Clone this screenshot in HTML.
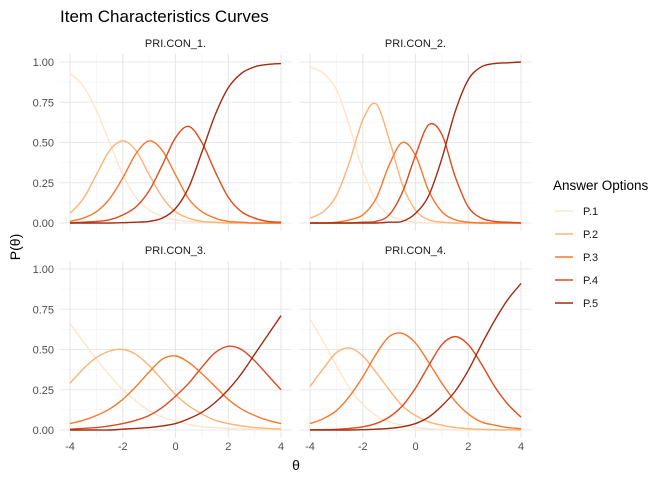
<!DOCTYPE html>
<html><head><meta charset="utf-8"><style>
body{margin:0;background:#fff;font-family:"Liberation Sans",sans-serif}
svg text{font-family:"Liberation Sans",sans-serif}
</style></head><body>
<svg id="chart" width="672" height="480" xmlns="http://www.w3.org/2000/svg">
<text x="60" y="22" font-size="17" fill="#000">Item Characteristics Curves</text>
<text x="296" y="470" font-size="14" text-anchor="middle" fill="#000" font-family="Liberation Serif">θ</text>
<text transform="translate(20,247) rotate(-90)" font-size="14" text-anchor="middle" fill="#000">P(θ)</text>
<g id="panels"></g>
<g id="legend">
<text x="553" y="190" font-size="13.5" fill="#000">Answer Options</text>
</g>
</svg>
<script>
const thetas=[-4,-3.5,-3,-2.5,-2,-1.5,-1,-0.5,0,0.5,1,1.5,2,2.5,3,3.5,4];
const panelNames=["PRI.CON_1.","PRI.CON_2.","PRI.CON_3.","PRI.CON_4."];
const seriesNames=["P.1","P.2","P.3","P.4","P.5"];
const colors=["#FDE5CC","#FDB277","#F8772A","#DE4A1E","#A12C12"];
const xTicks=[-4,-2,0,2,4];
const yTicks=[0,0.25,0.5,0.75,1];
const yTickLabels=["0.00","0.25","0.50","0.75","1.00"];
const item1=[
[.93,.85,.70,.50,.30,.16,.08,.04,.02,.01,.005,0,0,0,0,0,0],
[.06,.15,.30,.45,.51,.45,.30,.16,.07,.03,.01,.005,0,0,0,0,0],
[.01,.03,.07,.15,.28,.43,.51,.45,.30,.15,.07,.03,.01,.005,0,0,0],
[0,.005,.01,.02,.05,.10,.20,.36,.53,.60,.50,.32,.16,.07,.03,.01,.005],
[0,0,0,0,.002,.005,.01,.03,.09,.22,.44,.67,.84,.93,.97,.985,.99]];
const item2=[
[.97,.93,.83,.60,.33,.14,.05,.02,.005,0,0,0,0,0,0,0,0],
[.03,.07,.17,.38,.64,.74,.52,.24,.08,.02,.005,0,0,0,0,0,0],
[0,0,.005,.02,.05,.15,.36,.50,.42,.20,.07,.02,.005,0,0,0,0],
[0,0,0,0,.005,.01,.05,.19,.42,.61,.55,.29,.10,.03,.01,.005,0],
[0,0,0,0,0,0,.005,.01,.06,.17,.40,.69,.89,.97,.99,.995,1]];
const item3=[
[.66,.55,.44,.34,.25,.18,.12,.08,.055,.035,.02,.015,.01,.006,.004,.002,.001],
[.29,.38,.45,.49,.50,.47,.40,.31,.22,.15,.10,.06,.04,.025,.015,.01,.005],
[.04,.06,.09,.13,.19,.27,.36,.44,.46,.42,.35,.27,.19,.13,.09,.06,.04],
[.005,.01,.015,.025,.04,.06,.09,.14,.21,.29,.39,.48,.52,.50,.43,.34,.25],
[0,0,0,0,.005,.01,.015,.025,.04,.07,.11,.17,.25,.35,.47,.59,.71]];
const item4=[
[.69,.55,.40,.26,.16,.09,.05,.03,.015,.008,.004,0,0,0,0,0,0],
[.27,.38,.48,.51,.46,.36,.25,.15,.09,.05,.03,.015,.008,.004,.002,.001,0],
[.04,.07,.12,.21,.33,.47,.58,.60,.54,.42,.29,.18,.10,.05,.03,.015,.008],
[.001,.002,.004,.01,.02,.04,.08,.15,.26,.40,.53,.58,.53,.41,.27,.16,.08],
[0,0,0,0,.002,.005,.01,.02,.04,.08,.15,.24,.37,.53,.68,.81,.91]];
const items=[item1,item2,item3,item4];

const NS="http://www.w3.org/2000/svg";
const layout=[{x0:70,x1:281,y0:223,y1:62},{x0:310,x1:521,y0:223,y1:62},{x0:70,x1:281,y0:430,y1:269},{x0:310,x1:521,y0:430,y1:269}];
function mk(tag,attrs,parent){const e=document.createElementNS(NS,tag);for(const k in attrs)e.setAttribute(k,attrs[k]);parent.appendChild(e);return e;}
function smooth(pts){let d="M"+pts[0][0]+","+pts[0][1];for(let i=0;i<pts.length-1;i++){const p0=pts[Math.max(0,i-1)],p1=pts[i],p2=pts[i+1],p3=pts[Math.min(pts.length-1,i+2)];
const c1=[p1[0]+(p2[0]-p0[0])/6,p1[1]+(p2[1]-p0[1])/6],c2=[p2[0]-(p3[0]-p1[0])/6,p2[1]-(p3[1]-p1[1])/6];
d+=" C"+c1[0].toFixed(2)+","+c1[1].toFixed(2)+" "+c2[0].toFixed(2)+","+c2[1].toFixed(2)+" "+p2[0].toFixed(2)+","+p2[1].toFixed(2);}return d;}
const root=document.getElementById("panels");
items.forEach((item,pi)=>{
  const L=layout[pi];
  const xs=v=>L.x0+(v+4)/8*(L.x1-L.x0);
  const ys=v=>L.y0+v*(L.y1-L.y0);
  const g=mk("g",{},root);
  
  
  const xl=xs(-4.4),xr=xs(4.4),yt=ys(1.05),yb=ys(-0.05);
  for(let v=-3;v<=3;v+=2){const l=mk("line",{x1:xs(v),x2:xs(v),y1:yt,y2:yb,stroke:"#f0f0f0","stroke-width":0.6},g);}
  for(let v=0.125;v<1;v+=0.25){const l=mk("line",{x1:xl,x2:xr,y1:ys(v),y2:ys(v),stroke:"#f0f0f0","stroke-width":0.6},g);}
  xTicks.forEach(v=>{const l=mk("line",{x1:xs(v),x2:xs(v),y1:yt,y2:yb,stroke:"#e8e8e8","stroke-width":1.1},g);});
  yTicks.forEach(v=>{const l=mk("line",{x1:xl,x2:xr,y1:ys(v),y2:ys(v),stroke:"#e8e8e8","stroke-width":1.1},g);});
  const st=mk("text",{x:(L.x0+L.x1)/2,y:L.y1-15,"font-size":"11","text-anchor":"middle",fill:"#1a1a1a"},g);st.textContent=panelNames[pi];
  
  if(pi%2===0){yTicks.forEach((v,i)=>{const t=mk("text",{x:L.x0-16,y:ys(v)+4,"font-size":"11","text-anchor":"end",fill:"#4d4d4d"},g);t.textContent=yTickLabels[i];});}
  if(pi>=2){xTicks.forEach(v=>{const t=mk("text",{x:xs(v),y:L.y0+20,"font-size":"11","text-anchor":"middle",fill:"#4d4d4d"},g);t.textContent=String(v);});}
  item.forEach((vals,si)=>{
    const pts=thetas.map((t,i)=>[xs(t),ys(vals[i])]);
    const p=mk("path",{d:smooth(pts),fill:"none",stroke:colors[si],"stroke-width":1.4},g);
    
    
  });
});
const lg=document.getElementById("legend");
seriesNames.forEach((n,i)=>{
  const y=211+i*23;
  const e=mk("g",{},lg);
  
  
  mk("line",{x1:555,x2:573,y1:y,y2:y,stroke:colors[i],"stroke-width":1.5},e);
  const t=mk("text",{x:583,y:y+4,"font-size":"11",fill:"#1a1a1a"},e);t.textContent=n;
});
</script>
</body></html>
